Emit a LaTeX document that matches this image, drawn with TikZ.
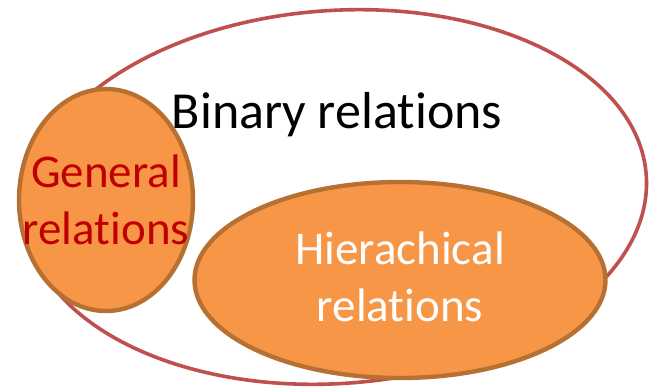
\documentclass[tikz,border=0pt]{standalone}
\usepackage{fontspec}
\setmainfont{Carlito}[Ligatures=NoCommon]
\usetikzlibrary{shapes.geometric}
\definecolor{setred}{RGB}{192,80,77}
\definecolor{setorange}{RGB}{247,150,70}
\definecolor{setbrown}{RGB}{182,112,50}
\definecolor{labelred}{RGB}{192,0,0}
\tikzset{
outer set/.style={ellipse, draw=setred, line width=3.6pt, inner sep=0pt}, % the big set
inner set/.style={ellipse, draw=setbrown, fill=setorange, line width=4.4pt, inner sep=0pt}, % the filled subsets
set label/.style={font=\fontsize{47}{57}\selectfont, align=center, inner sep=0pt},
}

\begin{document}
\begin{tikzpicture}[x=1pt, y=1pt]
      \useasboundingbox (0,0) rectangle (650,389);
      \node[outer set, minimum width=622pt, minimum height=373pt, rotate=4] (binary) at (336,192) {};
      \node[inner set, minimum width=174pt, minimum height=222pt] (general) at (106,189) {};
      \node[inner set, minimum width=411pt, minimum height=196pt] (hierarchical) at (400,109) {};

      \node[font=\fontsize{52}{62}\selectfont, anchor=base, inner sep=0pt] (binarylabel) at (337,261) {Binary relations};
      \node[set label, text=labelred] (generallabel) at (general.center) {General\\relations};
      \node[set label, text=white, yshift=3pt] (hierarchicallabel) at (hierarchical.center) {Hierachical\\relations};
\end{tikzpicture}
\end{document}
